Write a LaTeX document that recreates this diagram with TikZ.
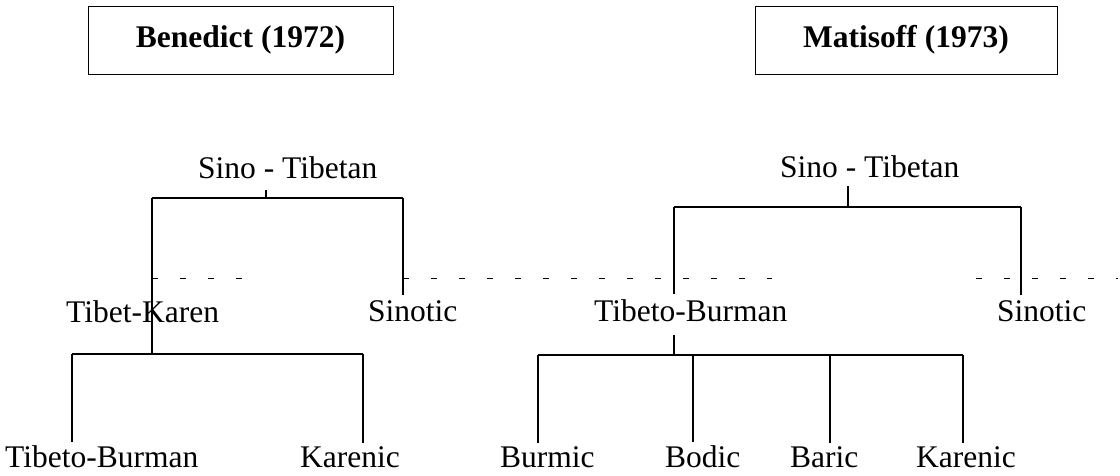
\documentclass[tikz,border=0pt]{standalone}
\usepackage{fontspec}
\setmainfont{Liberation Serif}
\newcommand\treefont{\fontsize{31.5}{36}\selectfont}
\begin{document}
\begin{tikzpicture}[x=1pt,y=-1pt,
  lbl/.style={font=\treefont, inner sep=0pt, anchor=base west},
  hbox/.style={draw, line width=1pt, font=\treefont\bfseries, inner sep=0pt, minimum height=68pt},
  link/.style={line width=1.2pt},
  dots/.style={line width=1pt, dash pattern=on 6pt off 22pt}]
\useasboundingbox (0,0) rectangle (1120,475);

% headings
\node[hbox, minimum width=305pt] (ben) at (240.5,40) {Benedict (1972)};
\node[hbox, minimum width=302pt] (mat) at (906,40) {Matisoff (1973)};

% ---------- left tree ----------
\node[lbl] (stL) at (198,178) {Sino - Tibetan};
\node[lbl] (tk) at (66,322) {Tibet-Karen};
\node[lbl] (sinL) at (368,321) {Sinotic};
\node[lbl] (tbL) at (5,467) {Tibeto-Burman};
\node[lbl] (karL) at (300,467) {Karenic};

\coordinate (jL) at (266,198);
\coordinate (aL) at (152,198);
\coordinate (bL) at (403,198);
\coordinate (kL) at (152,354);
\coordinate (cL) at (72,354);
\coordinate (dL) at (363,354);

\draw[link] (stL.base -| jL) ++(0,12) -- (jL);
\draw[link] (aL) -- (bL);
\draw[link] (aL) -- (kL);
\draw[link] (bL) -- ([yshift=5pt]sinL.north -| bL);
\draw[link] (cL) -- (dL);
\draw[link] (cL) -- ([yshift=3pt]tbL.north -| cL);
\draw[link] (dL) -- ([yshift=3pt]karL.north -| dL);

% ---------- right tree ----------
\node[lbl] (stR) at (780,177) {Sino - Tibetan};
\node[lbl] (tbM) at (594,321) {Tibeto-Burman};
\node[lbl] (sinR) at (997,321) {Sinotic};
\node[lbl] (bur) at (500,467) {Burmic};
\node[lbl] (bod) at (665,467) {Bodic};
\node[lbl] (bar) at (790,467) {Baric};
\node[lbl] (karR) at (916,467) {Karenic};

\coordinate (jR) at (848,207);
\coordinate (aR) at (674,207);
\coordinate (bR) at (1021,207);
\coordinate (mR) at (674,355);
\coordinate (p1) at (538,355);
\coordinate (p2) at (693,355);
\coordinate (p3) at (830,355);
\coordinate (p4) at (963,355);

\draw[link] (stR.base -| jR) ++(0,9) -- (jR);
\draw[link] (aR) -- (bR);
\draw[link] (aR) -- ([yshift=5pt]tbM.north -| aR);
\draw[link] (bR) -- ([yshift=5pt]sinR.north -| bR);
\draw[link] (tbM.base -| mR) ++(0,14) -- (mR);
\draw[link] (p1) -- (p4);
\draw[link] (p1) -- ([yshift=3pt]bur.north -| p1);
\draw[link] (p2) -- ([yshift=3pt]bod.north -| p2);
\draw[link] (p3) -- ([yshift=3pt]bar.north -| p3);
\draw[link] (p4) -- ([yshift=3pt]karR.north -| p4);

% dotted level line
\coordinate (d1) at (152,278);
\coordinate (d2) at (245,278);
\coordinate (d3) at (403,278);
\coordinate (d4) at (772,278);
\coordinate (d5) at (976,278);
\coordinate (d6) at (1118,278);
\draw[dots] (d1) -- (d2);
\draw[dots] (d3) -- (d4);
\draw[dots] (d5) -- (d6);
\end{tikzpicture}
\end{document}
